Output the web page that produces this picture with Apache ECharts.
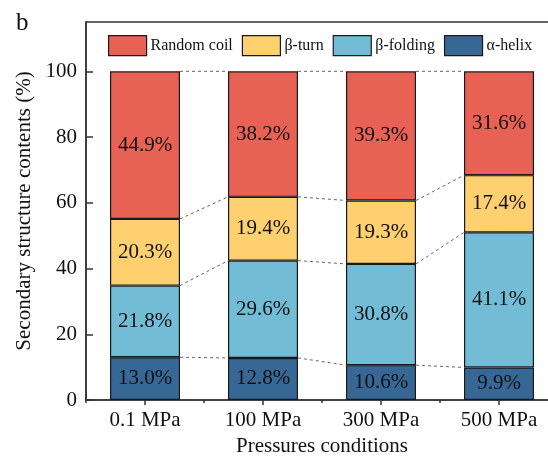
<!DOCTYPE html>
<html>
<head>
<meta charset="utf-8">
<script src="https://cdn.jsdelivr.net/npm/echarts@6/dist/echarts.min.js"></script>
<style>
  html, body { margin: 0; padding: 0; background: #fff; }
  #chart { width: 548px; height: 456px; }
</style>
</head>
<body>
<div id="chart"></div>
<script>
// Secondary structure composition under different pressure treatments
const categories = ['0.1 MPa', '100 MPa', '300 MPa', '500 MPa'];
const alphaHelix = [13.0, 12.8, 10.6, 9.9];
const betaFolding = [21.8, 29.6, 30.8, 41.1];
const betaTurn = [20.3, 19.4, 19.3, 17.4];
const randomCoil = [44.9, 38.2, 39.3, 31.6];
const yTicks = [0, 20, 40, 60, 80, 100];

const FONT = "'Liberation Serif', 'Times New Roman', serif";
const BAR_WIDTH = 70;

// stacking order bottom -> top
const stackOrder = [
  { name: 'α-helix', values: alphaHelix, color: '#376795' },
  { name: 'β-folding', values: betaFolding, color: '#72BCD5' },
  { name: 'β-turn', values: betaTurn, color: '#FFD06F' },
  { name: 'Random coil', values: randomCoil, color: '#E76254' }
];

// cumulative tops of every stack level, per category
const cumulative = [];
stackOrder.forEach((s, k) => {
  cumulative.push(s.values.map((v, i) => (k ? cumulative[k - 1][i] : 0) + v));
});

// dashed connectors between neighbouring bars at each stack boundary
const connectorData = [];
for (let i = 0; i < categories.length - 1; i++) {
  cumulative.forEach(level => {
    connectorData.push([i, level[i], i + 1, level[i + 1]]);
  });
}

const barSeries = stackOrder.map(s => ({
  name: s.name,
  type: 'bar',
  stack: 'total',
  barWidth: BAR_WIDTH,
  data: s.values,
  itemStyle: { color: s.color, borderColor: '#1a1a1a', borderWidth: 1.2 },
  label: {
    show: true,
    position: 'inside',
    formatter: p => p.value.toFixed(1) + '%',
    fontFamily: FONT,
    fontSize: 21,
    color: '#111'
  },
  emphasis: { disabled: true },
  z: 3
}));

const connectorSeries = {
  type: 'custom',
  coordinateSystem: 'cartesian2d',
  silent: true,
  z: 2,
  data: connectorData,
  encode: { x: 0, y: 1 },
  renderItem: (params, api) => {
    const p1 = api.coord([api.value(0), api.value(1)]);
    const p2 = api.coord([api.value(2), api.value(3)]);
    return {
      type: 'line',
      shape: { x1: p1[0] + BAR_WIDTH / 2, y1: p1[1], x2: p2[0] - BAR_WIDTH / 2, y2: p2[1] },
      style: { stroke: '#666', lineWidth: 1, lineDash: [3, 3] }
    };
  }
};

const chart = echarts.init(document.getElementById('chart'), null, { renderer: 'canvas' });
chart.setOption({
  animation: false,
  backgroundColor: '#fff',
  textStyle: { fontFamily: FONT },
  title: {
    text: 'b',
    left: 11,
    top: 6,
    textStyle: { fontFamily: FONT, fontSize: 25, fontWeight: 'normal', color: '#111' }
  },
  legend: {
    data: ['Random coil', 'β-turn', 'β-folding', 'α-helix'],
    left: 103,
    top: 30,
    icon: 'rect',
    itemWidth: 38,
    itemHeight: 20,
    itemGap: 9,
    itemStyle: { borderColor: '#1a1a1a', borderWidth: 1.2 },
    textStyle: { fontFamily: FONT, fontSize: 16, color: '#111', padding: [0, 0, 0, -1] }
  },
  grid: {
    left: 86,
    top: 22,
    right: -10,
    bottom: 56,
    outerBoundsMode: 'none',
    containLabel: false,
    show: true,
    borderColor: '#333',
    borderWidth: 1.5,
    backgroundColor: 'transparent'
  },
  xAxis: [
    {
      type: 'category',
      data: categories,
      name: 'Pressures conditions',
      nameLocation: 'middle',
      nameGap: 36,
      nameTextStyle: { fontFamily: FONT, fontSize: 21, color: '#111' },
      axisLine: { show: true, lineStyle: { color: '#333', width: 1.5 } },
      axisTick: { show: true, alignWithLabel: true, length: 5, lineStyle: { color: '#333', width: 1.5 } },
      axisLabel: { fontFamily: FONT, fontSize: 21, color: '#111', margin: 10 },
      splitLine: { show: false }
    },
    {
      // short ticks marking the boundaries between categories
      type: 'category',
      data: categories,
      position: 'bottom',
      axisLine: { show: false },
      axisTick: { show: true, length: 3, lineStyle: { color: '#333', width: 1.5 } },
      axisLabel: { show: false },
      splitLine: { show: false }
    }
  ],
  yAxis: {
    type: 'value',
    min: 0,
    max: 115,
    name: 'Secondary structure contents (%)',
    nameLocation: 'middle',
    nameGap: 48,
    nameTextStyle: { fontFamily: FONT, fontSize: 21, color: '#111' },
    axisLine: { show: true, lineStyle: { color: '#333', width: 1.5 } },
    axisTick: { show: true, inside: true, customValues: yTicks, length: 7, lineStyle: { color: '#333', width: 1.5 } },
    axisLabel: { customValues: yTicks, fontFamily: FONT, fontSize: 21, color: '#111', margin: 9 },
    splitLine: { show: false }
  },
  series: [connectorSeries, ...barSeries]
});
</script>
</body>
</html>
